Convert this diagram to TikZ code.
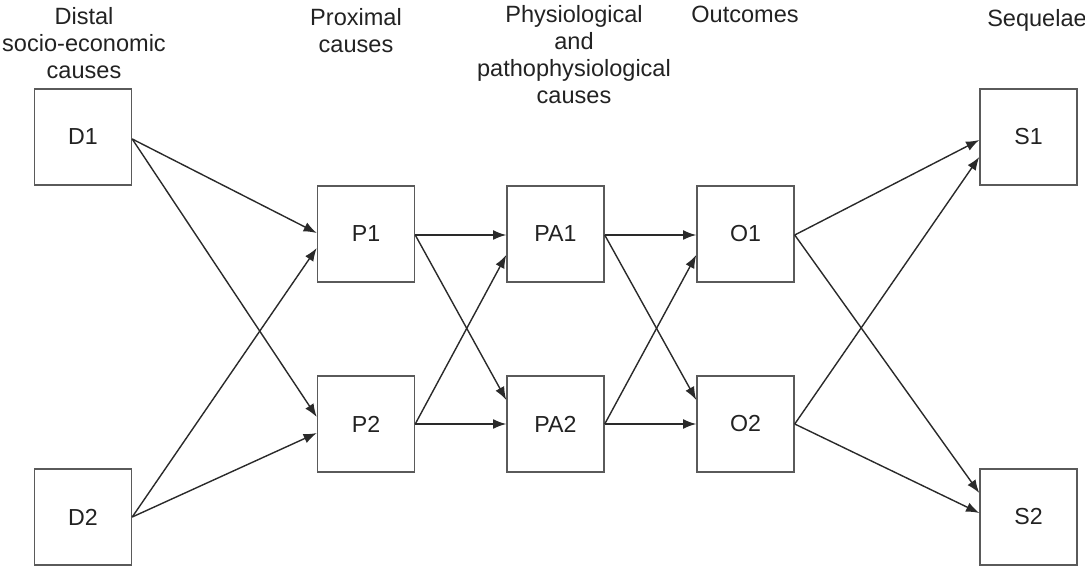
\documentclass[tikz,border=0pt]{standalone}
\usepackage{fontspec}
\setmainfont{Liberation Sans}
\usetikzlibrary{arrows.meta,calc}
\definecolor{boxc}{HTML}{5A5A5A}
\definecolor{linec}{HTML}{2A2A2A}
\definecolor{txtc}{HTML}{222222}
\begin{document}
\begin{tikzpicture}[x=0.02cm,y=-0.02cm,
  box/.style={draw=boxc,line width=0.85pt,minimum width=1.94cm,minimum height=1.92cm,inner sep=0pt,
    font=\fontsize{13.2}{15}\selectfont,text=txtc},
  lbl/.style={anchor=north,align=center,inner sep=0pt,text=txtc,
    font=\fontsize{13.4}{15.4}\selectfont},
  arr/.style={draw=linec,line width=0.8pt,-{Latex[length=7.5pt,width=5.6pt]}}]
\useasboundingbox (0,0) rectangle (1085,567);
% labels
\node[lbl] (L1) at (84,7) {Distal\\socio-economic\\causes};
\node[lbl] (L2) at (356,8) {Proximal\\causes};
\node[lbl] (L3) at (574,5) {Physiological\\and\\pathophysiological\\causes};
\node[lbl] (L4) at (745,6) {Outcomes};
\node[lbl] (L5) at (1037,9) {Sequelae};
% boxes
\node[box] (D1) at (83,137) {D1};
\node[box] (D2) at (83,517) {D2};
\node[box] (P1) at (366,234) {P1};
\node[box] (P2) at (366,424) {P2};
\node[box] (PA1) at (555.5,234) {PA1};
\node[box] (PA2) at (555.5,424) {PA2};
\node[box] (O1) at (745.5,234) {O1};
\node[box] (O2) at (745.5,424) {O2};
\node[box] (S1) at (1028.5,137) {S1};
\node[box] (S2) at (1028.5,517) {S2};
% connectors
\draw[arr] ($(D1.east)+(0,2)$) -- ($(P1.west)+(0,-1)$);
\draw[arr] ($(D1.east)+(0,2)$) -- ($(P2.west)+(0,-7)$);
\draw[arr] (D2.east) -- ($(P1.west)+(0,14)$);
\draw[arr] (D2.east) -- ($(P2.west)+(0,9)$);
\draw[arr] ($(P1.east)+(0,1)$) -- ($(PA1.west)+(0,1)$);
\draw[arr] ($(P1.east)+(0,1)$) -- ($(PA2.west)+(0,-24)$);
\draw[arr] (P2.east) -- ($(PA1.west)+(0,21)$);
\draw[arr] (P2.east) -- (PA2.west);
\draw[arr] ($(PA1.east)+(0,1)$) -- ($(O1.west)+(0,1)$);
\draw[arr] ($(PA1.east)+(0,1)$) -- ($(O2.west)+(0,-24)$);
\draw[arr] (PA2.east) -- ($(O1.west)+(0,21)$);
\draw[arr] (PA2.east) -- (O2.west);
\draw[arr] ($(O1.east)+(0,1)$) -- ($(S1.west)+(0,3)$);
\draw[arr] ($(O1.east)+(0,1)$) -- ($(S2.west)+(0,-24)$);
\draw[arr] (O2.east) -- ($(S1.west)+(0,20)$);
\draw[arr] (O2.east) -- ($(S2.west)+(0,-4)$);
\end{tikzpicture}
\end{document}
